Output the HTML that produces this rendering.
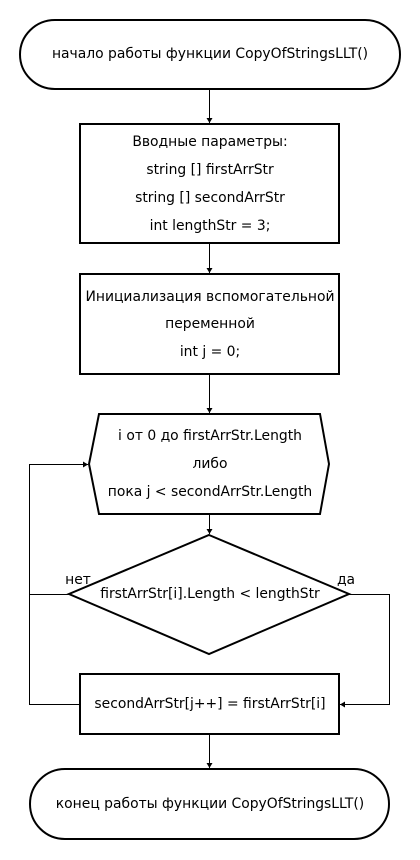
<!DOCTYPE html>
<html><head><meta charset="utf-8"><style>
html,body{margin:0;padding:0;background:#fff;width:420px;height:860px;overflow:hidden}
svg{display:block}
text{font-family:"DejaVu Sans","Liberation Sans",sans-serif;font-size:13.9px;fill:#000;text-anchor:middle;dominant-baseline:central}
</style></head><body>
<svg width="420" height="860" viewBox="0 0 420 860" xmlns="http://www.w3.org/2000/svg">
<defs><marker id="a" markerWidth="6" markerHeight="6" refX="5" refY="3" orient="auto" markerUnits="userSpaceOnUse"><path d="M0,0 L5,3 L0,6 z" fill="#000"/></marker></defs>
<g fill="none" stroke="#000" stroke-width="2">
<rect x="20" y="20" width="380" height="69" rx="35" ry="35"/>
<rect x="80" y="124" width="259" height="119"/>
<rect x="80" y="274" width="259" height="100"/>
<polygon points="99,414 320,414 329,464 320,514 99,514 89,464"/>
<polygon points="209,535 349,594 209,654 69,594"/>
<rect x="80" y="674" width="259" height="60"/>
<rect x="30" y="769" width="359" height="70" rx="35" ry="35"/>
</g>
<g fill="none" stroke="#000" stroke-width="1">
<line x1="209.5" y1="89" x2="209.5" y2="123" marker-end="url(#a)"/>
<line x1="209.5" y1="243" x2="209.5" y2="273" marker-end="url(#a)"/>
<line x1="209.5" y1="374" x2="209.5" y2="413" marker-end="url(#a)"/>
<line x1="209.5" y1="514" x2="209.5" y2="534" marker-end="url(#a)"/>
<line x1="209.5" y1="734" x2="209.5" y2="768" marker-end="url(#a)"/>
<polyline points="69,594.5 29.5,594.5"/>
<polyline points="80,704.5 29.5,704.5 29.5,464.5 88,464.5" marker-end="url(#a)"/>
<polyline points="349,594.5 389.5,594.5 389.5,704.5 340,704.5" marker-end="url(#a)"/>
</g>
<text x="210" y="54">начало работы функции CopyOfStringsLLT()</text>
<text x="210" y="142">Вводные параметры:</text>
<text x="210" y="170">string [] firstArrStr</text>
<text x="210" y="198">string [] secondArrStr</text>
<text x="210" y="226">int lengthStr = 3;</text>
<text x="210" y="297">Инициализация вспомогательной</text>
<text x="210" y="324">переменной</text>
<text x="210" y="352">int j = 0;</text>
<text x="210" y="436">i от 0 до firstArrStr.Length</text>
<text x="210" y="464">либо</text>
<text x="210" y="492">пока j &lt; secondArrStr.Length</text>
<text x="210" y="594">firstArrStr[i].Length &lt; lengthStr</text>
<text x="78" y="580">нет</text>
<text x="346" y="580">да</text>
<text x="210" y="704">secondArrStr[j++] = firstArrStr[i]</text>
<text x="210" y="804">конец работы функции CopyOfStringsLLT()</text>
</svg>
</body></html>
